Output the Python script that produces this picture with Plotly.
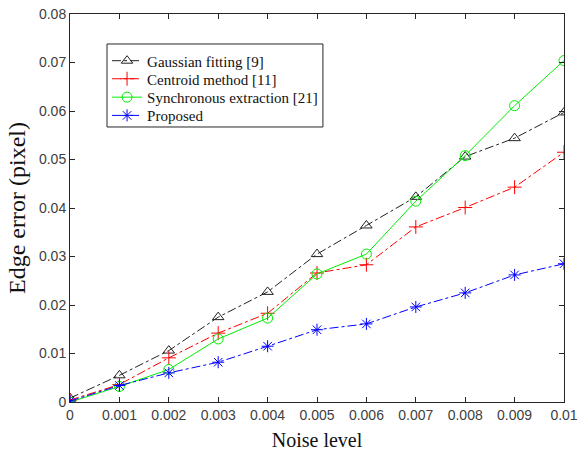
import plotly.graph_objects as go

noise = [0, 0.001, 0.002, 0.003, 0.004, 0.005, 0.006, 0.007, 0.008, 0.009, 0.01]
gaussian = [0.0008, 0.0055, 0.0106, 0.0175, 0.0227, 0.0305, 0.0364, 0.0423, 0.0506, 0.0544, 0.0597]
centroid = [0.0004, 0.0036, 0.0091, 0.0142, 0.0183, 0.0266, 0.0283, 0.0361, 0.0401, 0.0443, 0.0515]
synchronous = [0.0, 0.0032, 0.0067, 0.0130, 0.0173, 0.0264, 0.0305, 0.0414, 0.0508, 0.0611, 0.0704]
proposed = [0.0002, 0.0034, 0.0060, 0.0082, 0.0115, 0.0149, 0.0161, 0.0196, 0.0225, 0.0262, 0.0285]

x_ticks = [0, 0.001, 0.002, 0.003, 0.004, 0.005, 0.006, 0.007, 0.008, 0.009, 0.01]
x_labels = ["0", "0.001", "0.002", "0.003", "0.004", "0.005", "0.006", "0.007", "0.008", "0.009", "0.01"]
y_ticks = [0, 0.01, 0.02, 0.03, 0.04, 0.05, 0.06, 0.07, 0.08]
y_labels = ["0", "0.01", "0.02", "0.03", "0.04", "0.05", "0.06", "0.07", "0.08"]

series = [
    ("Gaussian fitting [9]", gaussian, "#222222", "dashdot", "triangle-up-open"),
    ("Centroid method [11]", centroid, "#ff0000", "dashdot", "cross-thin-open"),
    ("Synchronous extraction [21]", synchronous, "#00ee00", "solid", "circle-open"),
    ("Proposed", proposed, "#0000ff", "dashdot", "asterisk-open"),
]

# legend rows (paper y of each row centre)
legend_names = ["legend", "legend2", "legend3", "legend4"]
legend_rows = [0.879, 0.8325, 0.785, 0.738]

fig = go.Figure()
for (name, vals, color, dash, sym), lg in zip(series, legend_names):
    fig.add_trace(go.Scatter(
        x=noise, y=vals, name=name, mode="lines+markers",
        line=dict(color=color, width=1, dash=dash),
        marker=dict(symbol=sym, size=10, color=color, line=dict(color=color, width=1)),
        legend=lg,
    ))

axis_common = dict(
    showline=True, linecolor="#262626", linewidth=1, mirror="ticks",
    ticks="inside", ticklen=5, tickcolor="#262626",
    showgrid=False, zeroline=False, automargin=False,
    tickfont=dict(family="Liberation Sans, Arial", size=14, color="#404040"),
)

fig.update_xaxes(range=[0, 0.01], tickvals=x_ticks, ticktext=x_labels,
                 title=dict(text="Noise level", font=dict(family="Liberation Serif, Times New Roman", size=20, color="#111"), standoff=11),
                 **axis_common)
fig.update_yaxes(range=[0, 0.08], tickvals=y_ticks, ticktext=y_labels,
                 title=dict(text="Edge error (pixel)", font=dict(family="Liberation Serif, Times New Roman", size=24, color="#111"), standoff=6),
                 **axis_common)

legend_font = dict(family="Liberation Serif, Times New Roman", size=15, color="#111")
legend_layout = {}
for lg, yy in zip(legend_names, legend_rows):
    legend_layout[lg] = dict(x=0.075, y=yy, xanchor="left", yanchor="middle",
                             bgcolor="rgba(0,0,0,0)", borderwidth=0,
                             font=legend_font, itemwidth=30)

fig.update_layout(
    width=579, height=453,
    margin=dict(l=70, r=15, t=14, b=51, autoexpand=False),
    paper_bgcolor="white", plot_bgcolor="white",
    showlegend=True,
    **legend_layout,
)

# legend frame
fig.add_shape(type="rect", xref="paper", yref="paper",
              x0=0.0749, x1=0.512, y0=0.7088, y1=0.9227,
              line=dict(color="#262626", width=1), fillcolor="white", layer="below")

fig.write_html("out.html", config={"displayModeBar": False},
               post_script="document.body.style.margin='0';document.body.style.overflow='hidden';")
